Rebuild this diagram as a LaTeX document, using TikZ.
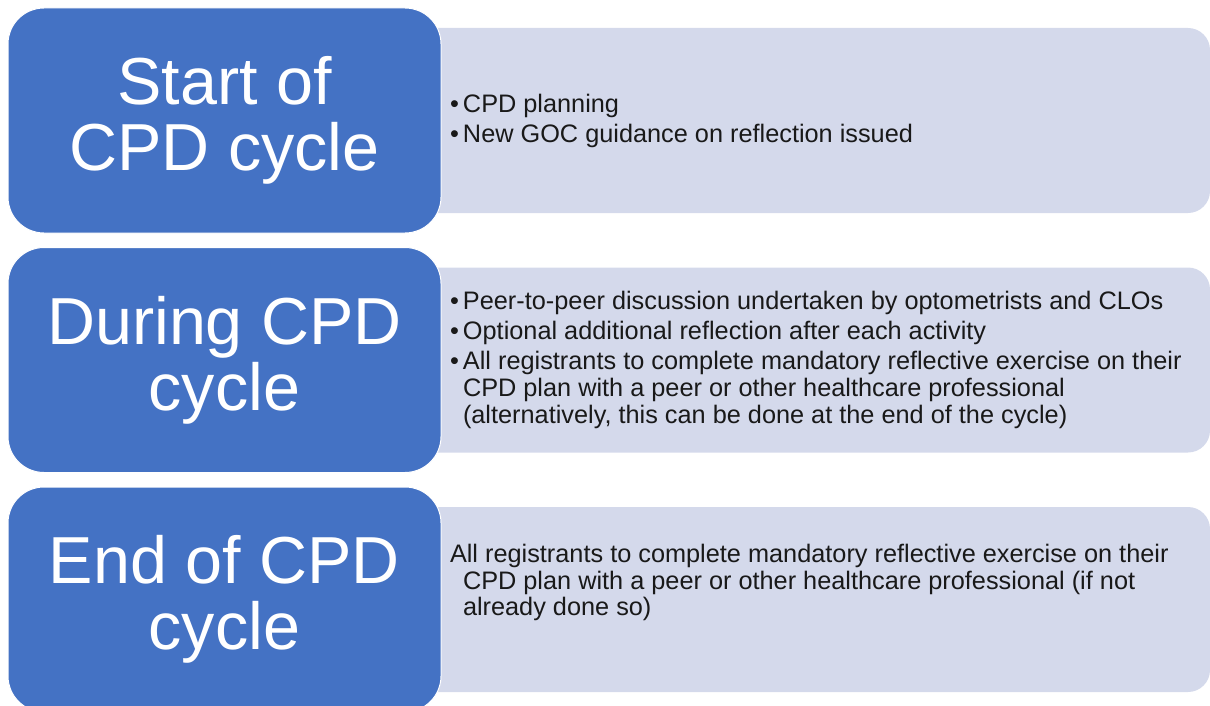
\documentclass[tikz,border=0pt]{standalone}
\usepackage{fontspec}
\setmainfont{Liberation Sans}
\usetikzlibrary{positioning}
\definecolor{cpdblue}{HTML}{4472C4}
\definecolor{cpdlight}{HTML}{D4D9EB}
\tikzstyle{stage} = [rectangle, rounded corners=36pt, minimum width=433pt, minimum height=225pt, text centered, align=center, draw=white, line width=1pt, fill=cpdblue, text=white, font=\fontsize{66.5}{66}\selectfont]
\tikzstyle{info} = [rectangle, rounded corners=22pt, minimum width=810pt, minimum height=185pt, fill=cpdlight]
\tikzstyle{notes} = [inner sep=0pt, anchor=west, align=left, text=black!90, font=\fontsize{25.3}{26.7}\selectfont]
\newcommand{\itm}{\makebox[13pt][l]{•}}
\newcommand{\hng}{\hspace*{13pt}}
\begin{document}
\begin{tikzpicture}[x=1pt, y=-1pt, node distance=239.5pt]

    \useasboundingbox (0,0) rectangle (1210,706);

    \node (info1) [info] at (805,120.5) {};
    \node (info2) [info, below of=info1] {};
    \node (info3) [info, below of=info2] {};

    \node (start)  [stage, node distance=580.5pt, left of=info1] {Start of\\CPD cycle};
    \node (during) [stage, node distance=580.5pt, left of=info2] {During CPD\\cycle};
    \node (finish) [stage, node distance=580.5pt, left of=info3] {End of CPD\\cycle};

    \node (notes1) [notes] at ([xshift=50pt]info1.west)
        {\itm CPD planning\\[3.3pt]
         \itm New GOC guidance on reflection issued};
    \node (notes2) [notes] at ([xshift=50pt]info2.west)
        {\itm Peer-to-peer discussion undertaken by optometrists and CLOs\\[3.3pt]
         \itm Optional additional reflection after each activity\\[3.3pt]
         \itm All registrants to complete mandatory reflective exercise on their\\
         \hng CPD plan with a peer or other healthcare professional\\
         \hng (alternatively, this can be done at the end of the cycle)};
    \node (notes3) [notes] at ([xshift=50pt, yshift=17pt]info3.west)
        {All registrants to complete mandatory reflective exercise on their\\
         \hng CPD plan with a peer or other healthcare professional (if not\\
         \hng already done so)};

\end{tikzpicture}
\end{document}
